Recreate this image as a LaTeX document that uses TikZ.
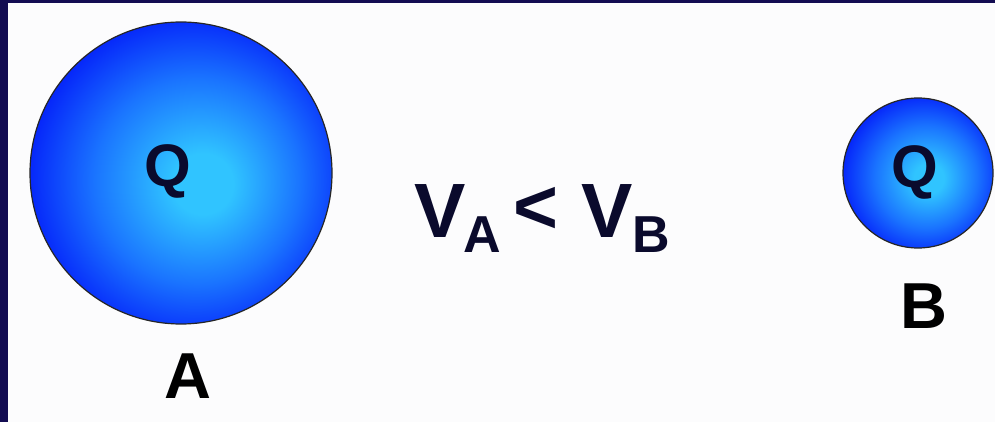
\documentclass[tikz,border=0pt]{standalone}
\usepackage{fontspec}
\setmainfont{Liberation Sans}
\definecolor{navy}{HTML}{130C52}
\definecolor{inkc}{HTML}{0A0A2C}
\definecolor{bgc}{HTML}{FCFCFD}
\definecolor{ballin}{HTML}{30C4FF}
\definecolor{ballmid}{HTML}{1A74FF}
\definecolor{ballout}{HTML}{0010F8}
\pgfdeclareradialshading{ballshade}{\pgfpoint{4bp}{-2bp}}{color(0bp)=(ballin); color(5bp)=(ballin); color(17bp)=(ballmid); color(30bp)=(ballout); color(36bp)=(ballout!80!black); color(50bp)=(ballout!80!black)}
\begin{document}
\begin{tikzpicture}[x=1pt,y=-1pt,
  ball/.style={circle, draw=black!85, line width=1.2pt, shading=ballshade, inner sep=0pt},
  qtxt/.style={inner sep=0pt, anchor=base, text=inkc, font=\fontsize{60}{60}\selectfont\bfseries},
  lbl/.style={inner sep=0pt, anchor=base, text=black, font=\fontsize{65}{65}\selectfont\bfseries},
  vbig/.style={inner sep=0pt, anchor=base, text=inkc, font=\fontsize{77}{77}\selectfont\bfseries},
  vsub/.style={inner sep=0pt, anchor=base, text=inkc, font=\fontsize{52}{52}\selectfont\bfseries}]
\useasboundingbox (0,0) rectangle (995,422);
\fill[bgc] (0,0) rectangle (995,422);
\fill[navy] (0,0) rectangle (995,3);
\fill[navy] (0,0) rectangle (8,422);
\node[ball, minimum size=302pt] (A) at (181,173) {};
\node[ball, minimum size=150pt] (B) at (918,173) {};
\node[qtxt] (qa) at (168,186) {Q};
\node[qtxt] (qb) at (915,188) {Q};
\node[lbl] (la) at (188,398) {A};
\node[lbl] (lb) at (924,328) {B};
\node[vbig] (v1) at (440,237) {V};
\node[vsub] (s1) at (482,252) {A};
\node[vbig, anchor=center] (lt) at (536,210) {<};
\node[vbig] (v2) at (607,237) {V};
\node[vsub] (s2) at (651,252) {B};
\end{tikzpicture}
\end{document}
